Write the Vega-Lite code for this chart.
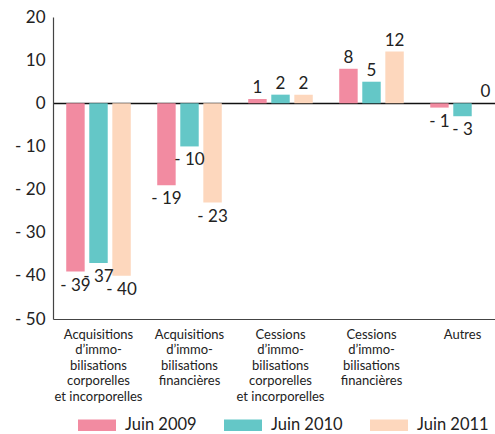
{
  "$schema": "https://vega.github.io/schema/vega-lite/v6.json",
  "width": 442,
  "height": 302,
  "autosize": "none",
  "padding": {"left": 53, "top": 17, "right": 0, "bottom": 115},
  "background": "white",
  "config": {
    "view": {"stroke": null},
    "font": "Lato",
    "axis": {"labelFont": "Lato", "labelColor": "#222"},
    "legend": {"labelFont": "Lato", "labelColor": "#222"}
  },
  "data": {
    "values": [
      {"cat": "Acquisitions|d’immo-|bilisations|corporelles|et incorporelles", "series": "Juin 2009", "value": -39},
      {"cat": "Acquisitions|d’immo-|bilisations|corporelles|et incorporelles", "series": "Juin 2010", "value": -37},
      {"cat": "Acquisitions|d’immo-|bilisations|corporelles|et incorporelles", "series": "Juin 2011", "value": -40},
      {"cat": "Acquisitions|d’immo-|bilisations|financières", "series": "Juin 2009", "value": -19},
      {"cat": "Acquisitions|d’immo-|bilisations|financières", "series": "Juin 2010", "value": -10},
      {"cat": "Acquisitions|d’immo-|bilisations|financières", "series": "Juin 2011", "value": -23},
      {"cat": "Cessions|d’immo-|bilisations|corporelles|et incorporelles", "series": "Juin 2009", "value": 1},
      {"cat": "Cessions|d’immo-|bilisations|corporelles|et incorporelles", "series": "Juin 2010", "value": 2},
      {"cat": "Cessions|d’immo-|bilisations|corporelles|et incorporelles", "series": "Juin 2011", "value": 2},
      {"cat": "Cessions|d’immo-|bilisations|financières", "series": "Juin 2009", "value": 8},
      {"cat": "Cessions|d’immo-|bilisations|financières", "series": "Juin 2010", "value": 5},
      {"cat": "Cessions|d’immo-|bilisations|financières", "series": "Juin 2011", "value": 12},
      {"cat": "Autres", "series": "Juin 2009", "value": -1},
      {"cat": "Autres", "series": "Juin 2010", "value": -3},
      {"cat": "Autres", "series": "Juin 2011", "value": 0}
    ]
  },
  "transform": [
    {"calculate": "datum.value < 0 ? '- ' + abs(datum.value) : '' + datum.value", "as": "txt"}
  ],
  "encoding": {
    "x": {
      "field": "cat",
      "type": "nominal",
      "sort": null,
      "title": null,
      "scale": {"range": [0, 455], "paddingInner": 0.24, "paddingOuter": 0.12},
      "axis": {
        "labelAngle": 0,
        "labelExpr": "split(datum.label, '|')",
        "labelFontSize": 13,
        "labelLineHeight": 15.5,
        "labelPadding": 9,
        "labelBaseline": "top",
        "labelLimit": 0,
        "ticks": false,
        "domainColor": "#444",
        "domainWidth": 1.2,
        "grid": false
      }
    },
    "xOffset": {
      "field": "series",
      "type": "nominal",
      "sort": ["Juin 2009", "Juin 2010", "Juin 2011"],
      "scale": {"paddingInner": 0.2, "paddingOuter": 0.1}
    },
    "y": {
      "field": "value",
      "type": "quantitative",
      "title": null,
      "scale": {"domain": [-50, 20], "nice": false, "zero": false},
      "axis": {
        "values": [-50, -40, -30, -20, -10, 0, 10, 20],
        "labelExpr": "datum.value < 0 ? '- ' + abs(datum.value) : '' + datum.value",
        "labelFontSize": 17,
        "labelPadding": 8,
        "ticks": false,
        "domainColor": "#444",
        "domainWidth": 1.2,
        "grid": true,
        "gridColor": {"condition": {"test": "datum.value == 0", "value": "#111"}, "value": {"expr": "datum.value == 20 || datum.value == -50 ? '#444' : '#cfcfcf'"}},
        "gridWidth": {"condition": {"test": "datum.value == 0", "value": 1.5}, "value": 1.2}
      }
    }
  },
  "layer": [
    {
      "mark": {"type": "bar"},
      "encoding": {
        "color": {
          "field": "series",
          "type": "nominal",
          "scale": {"domain": ["Juin 2009", "Juin 2010", "Juin 2011"], "range": ["#f28ba1", "#64c7c7", "#fdd7bd"]},
          "legend": {
            "title": null,
            "orient": "none",
            "legendX": 25,
            "legendY": 389,
            "direction": "horizontal",
            "symbolType": "M-1,-0.3L1,-0.3L1,0.3L-1,0.3Z",
            "symbolSize": 1444,
            "symbolStrokeWidth": 0,
            "symbolOpacity": 1,
            "labelFontSize": 16.5,
            "labelOffset": 9,
            "columnPadding": 27
          }
        }
      }
    },
    {
      "transform": [{"filter": "datum.value < 0"}],
      "mark": {"type": "text", "baseline": "top", "dy": 6, "fontSize": 17, "color": "#222"},
      "encoding": {"text": {"field": "txt"}}
    },
    {
      "transform": [{"filter": "datum.value >= 0"}],
      "mark": {"type": "text", "baseline": "alphabetic", "dy": -6, "fontSize": 17, "color": "#222"},
      "encoding": {"text": {"field": "txt"}}
    }
  ]
}
